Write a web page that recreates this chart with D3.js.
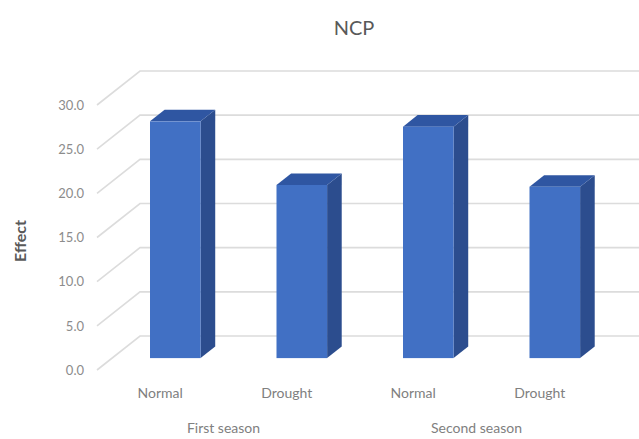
<!DOCTYPE html>
<html>
<head>
<meta charset="utf-8">
<script src="https://cdn.jsdelivr.net/npm/d3@7"></script>
<style>
  html, body { margin: 0; padding: 0; background: #fff; }
  text { font-family: Lato, "Open Sans", sans-serif; }
</style>
</head>
<body>
<svg id="chart" width="639" height="439"></svg>
<script>
// Chart data
const conditions = ["Normal", "Drought", "Normal", "Drought"];
const seasons = ["First season", "Second season"];
const effectValues = [26.8, 19.6, 26.2, 19.4];
const tickValues = [0, 5, 10, 15, 20, 25, 30];
const chartTitle = "NCP";
const yTitle = "Effect";

const svg = d3.select("#chart");
const W = 639, H = 439;

// Oblique projection: depth vector from the front plane to the back wall
const depth = { dx: 43, dy: -34 };
const barFront = 0.35, barBack = 0.69;

// Front-plane scales
const y = d3.scaleLinear().domain([0, 30]).range([370, 105]);
const x = d3.scaleBand()
  .domain(d3.range(conditions.length))
  .range([97, 603])
  .paddingInner(0.6)
  .paddingOuter(0.3);

// Gridlines: side wall diagonal, then across the back wall
const grid = svg.append("g").attr("class", "grid");
tickValues.forEach(v => {
  const x0 = x.range()[0], y0 = y(v);
  grid.append("path")
    .attr("d", d3.line()([[x0, y0], [x0 + depth.dx, y0 + depth.dy], [W + 5, y0 + depth.dy]]))
    .attr("fill", "none")
    .attr("stroke", "#dcdcdc")
    .attr("stroke-width", 1.6);
});

// Value axis labels
const axis = svg.append("g")
  .attr("transform", "translate(84,0)")
  .call(d3.axisLeft(y).tickValues(tickValues).tickFormat(d3.format(".1f")).tickSize(0).tickPadding(0));
axis.select(".domain").remove();
axis.selectAll("text")
  .attr("fill", "#8c8c8c")
  .style("font-size", "13px")
  .style("font-family", "Lato, 'Open Sans', sans-serif");

// 3D columns
const bars = svg.append("g").attr("class", "bars");
const fdx = depth.dx * barFront, fdy = depth.dy * barFront;
const bdx = depth.dx * (barBack - barFront), bdy = depth.dy * (barBack - barFront);
effectValues.forEach((v, i) => {
  const xl = x(i) + fdx, xr = xl + x.bandwidth();
  const yb = y(0) + fdy, yt = y(v) + fdy;
  const g = bars.append("g");
  // side face
  g.append("path")
    .attr("d", d3.line()([[xr, yb], [xr + bdx, yb + bdy], [xr + bdx, yt + bdy], [xr, yt]]) + "Z")
    .attr("fill", "#2c4d8e");
  // top face
  g.append("path")
    .attr("d", d3.line()([[xl, yt], [xl + bdx, yt + bdy], [xr + bdx, yt + bdy], [xr, yt]]) + "Z")
    .attr("fill", "#2f56a2");
  // front face
  g.append("rect")
    .attr("x", xl).attr("y", yt)
    .attr("width", x.bandwidth()).attr("height", yb - yt)
    .attr("fill", "#4170c4");
});

// Category labels
svg.append("g").selectAll("text")
  .data(conditions)
  .join("text")
  .attr("x", (d, i) => x(i) + x.bandwidth() / 2)
  .attr("y", 398)
  .attr("text-anchor", "middle")
  .attr("fill", "#808080")
  .style("font-size", "14px")
  .text(d => d);

// Season group labels
svg.append("g").selectAll("text")
  .data(seasons)
  .join("text")
  .attr("x", (d, i) => (x(2 * i) + x(2 * i + 1) + x.bandwidth()) / 2)
  .attr("y", 433)
  .attr("text-anchor", "middle")
  .attr("fill", "#808080")
  .style("font-size", "14px")
  .text(d => d);

// Title
svg.append("text")
  .attr("x", 354).attr("y", 35)
  .attr("text-anchor", "middle")
  .attr("fill", "#595959")
  .style("font-size", "20px")
  .text(chartTitle);

// Axis title
svg.append("text")
  .attr("transform", "translate(26,241) rotate(-90)")
  .attr("text-anchor", "middle")
  .attr("fill", "#595959")
  .style("font-size", "16px")
  .style("font-weight", "bold")
  .text(yTitle);
</script>
</body>
</html>
